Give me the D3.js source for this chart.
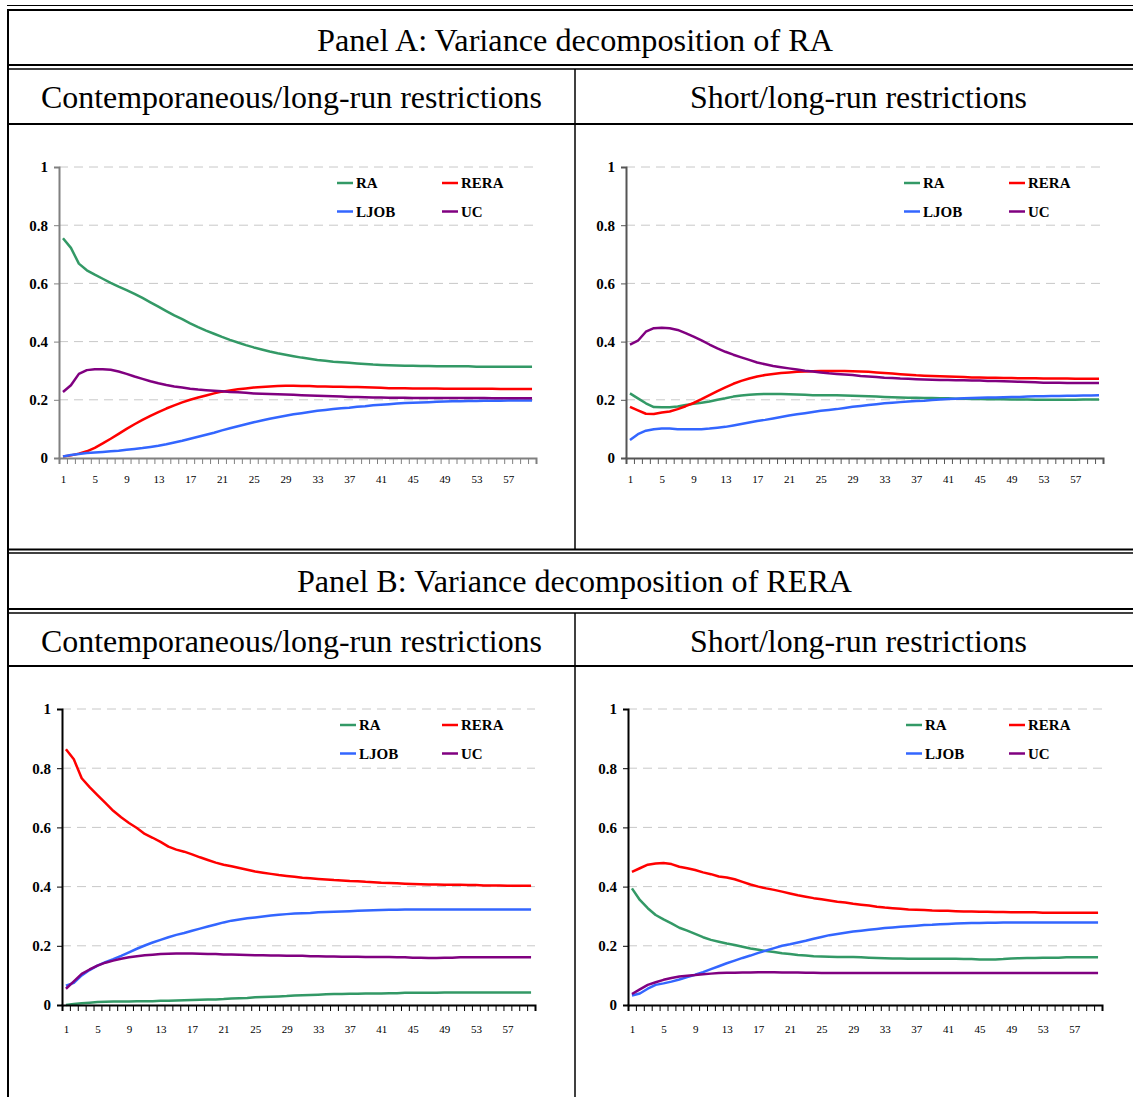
<!DOCTYPE html>
<html>
<head>
<meta charset="utf-8">
<script src="https://cdn.jsdelivr.net/npm/d3@7"></script>
<style>
  body { margin: 0; background: #fff; }
  svg { display: block; font-family: "Liberation Serif", "Times New Roman", serif; }
</style>
</head>
<body>
<svg id="fig" width="1133" height="1097"></svg>
<script>
// horizons (periods) and tick labels
var horizons = d3.range(1, 61);
var xTickLabels = [1, 5, 9, 13, 17, 21, 25, 29, 33, 37, 41, 45, 49, 53, 57];
var yTicks = [0, 0.2, 0.4, 0.6, 0.8, 1];
var seriesNames = ["RA", "RERA", "LJOB", "UC"];
var seriesColors = ["#339966", "#ff0000", "#3366ff", "#800080"];

// Panel A, contemporaneous/long-run restrictions
var raA1 = [.755,.722,.668,.645,.630,.616,.602,.589,.577,.564,
            .550,.535,.520,.505,.490,.477,.463,.450,.438,.427,
            .416,.406,.397,.388,.380,.373,.366,.360,.355,.350,
            .345,.341,.337,.334,.331,.329,.327,.325,.323,.321,
            .320,.319,.318,.317,.317,.316,.316,.315,.315,.315,
            .315,.315,.314,.314,.314,.314,.314,.314,.314,.314];
var reraA1 = [.005,.009,.015,.023,.035,.050,.066,.083,.100,.116,
              .131,.145,.158,.170,.181,.191,.200,.208,.215,.222,
              .228,.232,.236,.239,.242,.244,.246,.247,.248,.248,
              .247,.247,.246,.246,.245,.245,.244,.244,.243,.242,
              .241,.240,.240,.240,.239,.239,.239,.239,.238,.238,
              .238,.238,.238,.238,.238,.237,.237,.237,.237,.237];
var ljobA1 = [.005,.010,.014,.017,.019,.021,.023,.025,.028,.031,
              .034,.038,.042,.047,.053,.059,.066,.073,.080,.087,
              .095,.102,.109,.116,.123,.129,.135,.140,.145,.150,
              .154,.158,.162,.165,.168,.171,.173,.176,.178,.181,
              .183,.185,.187,.189,.190,.191,.192,.193,.194,.195,
              .195,.196,.196,.197,.197,.197,.198,.198,.198,.198];
var ucA1 = [.227,.250,.289,.302,.305,.305,.303,.297,.289,.280,
            .272,.264,.257,.251,.246,.242,.238,.235,.233,.231,
            .229,.227,.226,.224,.222,.221,.220,.219,.218,.217,
            .216,.215,.214,.213,.212,.211,.210,.210,.209,.208,
            .208,.207,.207,.207,.206,.206,.206,.206,.206,.206,
            .206,.206,.206,.206,.205,.205,.205,.205,.205,.205];

// Panel A, short/long-run restrictions
var raA2 = [.222,.205,.188,.175,.174,.174,.177,.182,.186,.190,
            .194,.200,.205,.211,.215,.217,.219,.220,.220,.220,
            .219,.218,.217,.216,.216,.216,.216,.215,.214,.213,
            .212,.211,.210,.209,.208,.207,.207,.206,.206,.205,
            .205,.204,.204,.203,.203,.202,.202,.202,.201,.201,
            .201,.200,.200,.200,.200,.200,.200,.201,.201,.201];
var reraA2 = [.176,.164,.152,.151,.156,.160,.168,.178,.189,.202,
              .216,.230,.243,.255,.265,.273,.280,.285,.289,.292,
              .294,.296,.297,.298,.299,.299,.299,.299,.298,.297,
              .296,.294,.292,.290,.288,.286,.284,.283,.282,.281,
              .280,.279,.278,.277,.277,.276,.276,.275,.275,.274,
              .274,.274,.273,.273,.273,.273,.272,.272,.272,.272];
var ljobA2 = [.062,.082,.094,.099,.101,.101,.099,.099,.099,.099,
              .101,.104,.107,.112,.117,.122,.127,.131,.136,.141,
              .146,.150,.154,.158,.162,.165,.168,.172,.176,.179,
              .182,.185,.188,.190,.192,.194,.196,.197,.199,.201,
              .203,.204,.205,.206,.207,.208,.208,.209,.210,.210,
              .211,.212,.212,.213,.213,.214,.214,.215,.215,.216];
var ucA2 = [.390,.403,.434,.446,.448,.446,.440,.429,.417,.404,
            .390,.377,.365,.355,.346,.337,.328,.322,.316,.312,
            .308,.304,.300,.297,.294,.291,.289,.287,.285,.282,
            .280,.278,.276,.275,.273,.272,.271,.270,.269,.268,
            .268,.267,.267,.266,.266,.265,.265,.264,.263,.262,
            .261,.260,.259,.259,.259,.258,.258,.258,.258,.258];

// Panel B, contemporaneous/long-run restrictions
var raB1 = [.000,.003,.006,.008,.010,.011,.012,.012,.012,.013,
            .013,.013,.014,.014,.015,.016,.017,.018,.019,.019,
            .020,.022,.023,.024,.026,.027,.028,.029,.030,.032,
            .033,.034,.035,.036,.037,.037,.038,.038,.039,.039,
            .039,.040,.040,.041,.041,.041,.041,.041,.042,.042,
            .042,.042,.042,.042,.042,.042,.042,.042,.042,.042];
var reraB1 = [.864,.830,.766,.736,.709,.683,.656,.634,.615,.598,
              .578,.565,.551,.535,.525,.518,.509,.499,.490,.481,
              .474,.469,.463,.457,.451,.447,.443,.439,.436,.433,
              .430,.428,.426,.424,.422,.421,.419,.418,.416,.415,
              .413,.412,.411,.410,.409,.408,.407,.407,.406,.406,
              .406,.405,.405,.404,.404,.404,.403,.403,.403,.403];
var ljobB1 = [.065,.075,.100,.118,.133,.145,.155,.166,.178,.190,
              .201,.211,.220,.229,.237,.243,.251,.258,.265,.272,
              .279,.285,.289,.293,.296,.299,.302,.305,.307,.309,
              .310,.311,.313,.314,.315,.316,.317,.318,.319,.320,
              .321,.322,.322,.323,.323,.323,.323,.323,.323,.323,
              .323,.323,.323,.323,.323,.323,.323,.323,.323,.323];
var ucB1 = [.055,.080,.105,.120,.133,.143,.150,.156,.161,.165,
            .168,.170,.172,.173,.174,.174,.174,.173,.172,.172,
            .171,.171,.170,.169,.168,.168,.167,.167,.166,.166,
            .166,.165,.165,.164,.164,.163,.163,.163,.162,.162,
            .162,.162,.161,.161,.160,.160,.159,.159,.160,.160,
            .161,.161,.161,.161,.161,.161,.161,.161,.161,.161];

// Panel B, short/long-run restrictions
var raB2 = [.394,.355,.327,.304,.289,.276,.261,.251,.240,.229,
            .220,.214,.208,.203,.197,.191,.187,.182,.179,.175,
            .172,.169,.167,.165,.164,.163,.162,.162,.162,.161,
            .160,.159,.158,.157,.157,.156,.156,.156,.156,.156,
            .156,.156,.155,.155,.154,.154,.154,.155,.157,.158,
            .159,.159,.160,.160,.160,.161,.161,.161,.161,.161];
var reraB2 = [.450,.462,.474,.478,.480,.476,.467,.462,.456,.448,
              .442,.434,.431,.425,.416,.407,.400,.394,.389,.383,
              .377,.371,.366,.361,.357,.353,.349,.346,.342,.339,
              .336,.332,.329,.327,.325,.323,.322,.321,.319,.318,
              .318,.317,.316,.316,.315,.315,.314,.314,.313,.313,
              .313,.313,.312,.312,.312,.312,.312,.312,.312,.312];
var ljobB2 = [.032,.039,.055,.068,.073,.079,.086,.094,.102,.111,
              .121,.131,.141,.150,.159,.167,.176,.184,.192,.200,
              .205,.211,.217,.224,.230,.236,.240,.244,.248,.251,
              .254,.257,.260,.262,.264,.266,.268,.270,.271,.273,
              .274,.275,.276,.277,.277,.278,.278,.279,.279,.279,
              .279,.279,.279,.279,.279,.279,.279,.279,.279,.279];
var ucB2 = [.037,.053,.068,.077,.085,.091,.096,.099,.101,.104,
            .106,.108,.109,.109,.110,.110,.111,.111,.111,.110,
            .110,.110,.109,.109,.108,.108,.108,.108,.108,.108,
            .108,.108,.108,.108,.108,.108,.108,.108,.108,.108,
            .108,.108,.108,.108,.108,.108,.108,.108,.108,.108,
            .108,.108,.108,.108,.108,.108,.108,.108,.108,.108];

var svg = d3.select("#fig");

/*
  table frame: rules and headings
*/
function hline(y, w) {
  svg.append("line").attr("x1", 7).attr("x2", 1133).attr("y1", y).attr("y2", y)
    .attr("stroke", "#000").attr("stroke-width", w);
}
function vline(x, y1, y2, w) {
  svg.append("line").attr("x1", x).attr("x2", x).attr("y1", y1).attr("y2", y2)
    .attr("stroke", "#000").attr("stroke-width", w);
}
function heading(txt, cx, y, len) {
  svg.append("text").attr("x", cx).attr("y", y)
    .attr("text-anchor", "middle")
    .attr("font-size", 31)
    .attr("textLength", len).attr("lengthAdjust", "spacingAndGlyphs")
    .text(txt);
}

hline(5.5, 1);
hline(10, 2);
hline(65, 2);
hline(69, 1.5);
hline(124, 2);
hline(549.5, 2);
hline(553, 1.5);
hline(609, 2);
hline(613, 1.5);
hline(666, 2);
vline(8, 9, 1097, 2);
vline(575, 69, 549, 1.5);
vline(575, 613, 1097, 1.5);

heading("Panel A: Variance decomposition of RA", 575, 51, 516);
heading("Contemporaneous/long-run restrictions", 291.5, 108, 501);
heading("Short/long-run restrictions", 858.5, 108, 337);
heading("Panel B: Variance decomposition of RERA", 574.5, 592, 555);
heading("Contemporaneous/long-run restrictions", 291.5, 652, 501);
heading("Short/long-run restrictions", 858.5, 652, 337);

/*
  one line chart per cell
*/
function drawChart(cfg, series) {
  var x = d3.scaleLinear().domain([0.5, 60.5]).range([cfg.x0, cfg.x1]);
  var y = d3.scaleLinear().domain([0, 1]).range([cfg.yb, cfg.yt]);
  var g = svg.append("g");

  // dashed gridlines
  g.selectAll(".grid").data(yTicks.slice(1)).enter().append("line")
    .attr("x1", cfg.x0).attr("x2", cfg.x1)
    .attr("y1", function(d) { return y(d); }).attr("y2", function(d) { return y(d); })
    .attr("stroke", "#c8c8c8").attr("stroke-width", 1).attr("stroke-dasharray", "9,6");

  // series lines
  var line = d3.line()
    .x(function(d, i) { return x(horizons[i]); })
    .y(function(d) { return y(d); });
  series.forEach(function(vals, k) {
    g.append("path").datum(vals)
      .attr("fill", "none")
      .attr("stroke", seriesColors[k])
      .attr("stroke-width", 2.5)
      .attr("stroke-linejoin", "round")
      .attr("d", line);
  });

  // y axis
  var ya = g.append("g").attr("transform", "translate(" + cfg.x0 + ",0)")
    .call(d3.axisLeft(y).tickValues(yTicks).tickSize(5).tickPadding(6)
      .tickFormat(function(d) { return (d === 0 || d === 1) ? d : d.toFixed(1); }));
  ya.selectAll("text").attr("font-size", 15).attr("font-weight", "bold")
    .attr("fill", "#000").attr("font-family", "Liberation Serif, serif");

  // x axis: tick marks between categories
  var xa = g.append("g").attr("transform", "translate(0," + cfg.yb + ")")
    .call(d3.axisBottom(x).tickValues(d3.range(0.5, 61, 1)).tickSize(6).tickFormat(""));
  var xl = g.append("g").attr("transform", "translate(0," + cfg.yb + ")")
    .call(d3.axisBottom(x).tickValues(xTickLabels).tickSize(0).tickPadding(cfg.lab));
  xl.select(".domain").remove();
  xl.selectAll("text").attr("font-size", 11).attr("fill", "#000")
    .attr("font-family", "Liberation Serif, serif");

  [ya, xa].forEach(function(a) {
    a.select(".domain").attr("stroke", cfg.axis).attr("stroke-width", 2);
    a.selectAll(".tick line").attr("stroke", cfg.axis).attr("stroke-width", 1);
  });

  // legend, two rows of two
  var leg = g.selectAll(".leg").data(seriesNames).enter().append("g")
    .attr("transform", function(d, i) {
      return "translate(" + (cfg.x0 + (i % 2 ? cfg.lx2 : 278)) + "," + (cfg.yt + (i < 2 ? 16 : 44.5)) + ")";
    });
  leg.append("line").attr("x1", 0).attr("x2", 16)
    .attr("stroke", function(d, i) { return seriesColors[i]; })
    .attr("stroke-width", 2.5);
  leg.append("text").attr("x", 19).attr("dy", "0.35em")
    .attr("font-size", 15).attr("font-weight", "bold")
    .text(function(d) { return d; });
}

drawChart({x0: 59, x1: 536, yt: 167, yb: 458, lab: 17, axis: "#808080", lx2: 383},
  [raA1, reraA1, ljobA1, ucA1]);
drawChart({x0: 626, x1: 1103, yt: 167, yb: 458, lab: 17, axis: "#555", lx2: 383},
  [raA2, reraA2, ljobA2, ucA2]);
drawChart({x0: 62, x1: 535, yt: 709, yb: 1005, lab: 20, axis: "#000", lx2: 380},
  [raB1, reraB1, ljobB1, ucB1]);
drawChart({x0: 628, x1: 1102, yt: 709, yb: 1005, lab: 20, axis: "#000", lx2: 381},
  [raB2, reraB2, ljobB2, ucB2]);
</script>
</body>
</html>
